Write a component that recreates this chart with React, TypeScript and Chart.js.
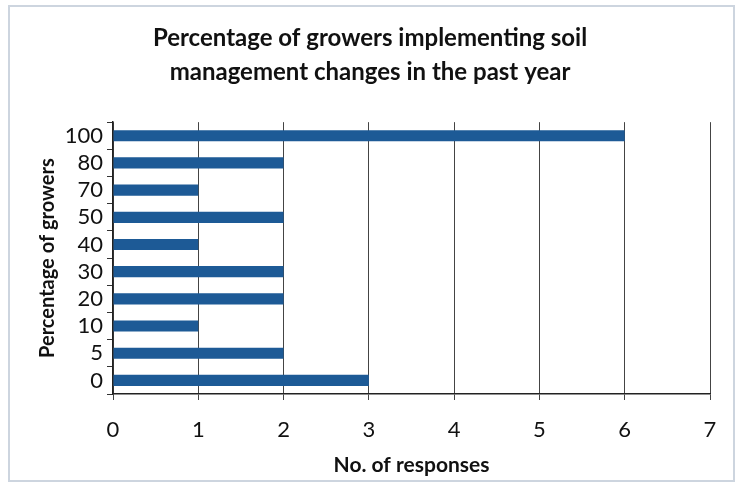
import React, { useEffect, useRef } from 'react';
import { Chart, registerables } from 'chart.js';

Chart.register(...registerables);

const titleLines = ['Percentage of growers implementing soil', 'management changes in the past year'];
const categories = ['100', '80', '70', '50', '40', '30', '20', '10', '5', '0'];
const responses = [6, 2, 1, 2, 1, 2, 2, 1, 2, 3];
const xMin = 0;
const xMax = 7;
const xStep = 1;
const yTitle = 'Percentage of growers';
const xTitle = 'No. of responses';

export default function App() {
  const ref = useRef<HTMLCanvasElement | null>(null);

  useEffect(() => {
    document.body.style.margin = '0';
    const canvas = ref.current;
    if (!canvas) return;
    Chart.defaults.font.family = "Lato, 'Open Sans', sans-serif";
    const chart = new Chart(canvas, {
      type: 'bar',
      data: {
        labels: categories,
        datasets: [
          {
            data: responses,
            backgroundColor: '#1d5a96',
            borderWidth: 0,
            barPercentage: 0.41,
            categoryPercentage: 1,
          },
        ],
      },
      options: {
        indexAxis: 'y',
        animation: false,
        responsive: false,
        maintainAspectRatio: false,
        layout: { padding: { left: 30, right: 31, top: 0, bottom: 0 } },
        plugins: {
          legend: { display: false },
          tooltip: { enabled: false },
          title: {
            display: true,
            text: titleLines,
            color: '#111',
            font: { size: 24, weight: 'bold', lineHeight: 1.42 },
            padding: { top: 21, bottom: 33 },
          },
        },
        scales: {
          y: {
            type: 'category',
            offset: true,
            grid: {
              offset: true,
              drawOnChartArea: false,
              drawTicks: true,
              tickLength: 6,
              color: '#333',
            },
            border: { display: true, color: '#222', width: 1.5 },
            ticks: { color: '#111', font: { size: 22 }, padding: 4, autoSkip: false },
            title: {
              display: true,
              text: yTitle,
              color: '#111',
              font: { size: 20, weight: 'bold', lineHeight: 1.2 },
              padding: { top: 6, bottom: 0 },
            },
            afterFit: (scale: any) => {
              scale.width = 83;
            },
          },
          x: {
            type: 'linear',
            min: xMin,
            max: xMax,
            ticks: { stepSize: xStep, color: '#111', font: { size: 22 }, padding: 17, autoSkip: false },
            grid: {
              color: '#444',
              lineWidth: 1,
              drawTicks: true,
              tickLength: 6,
            },
            border: { display: true, color: '#222', width: 1.5 },
            title: {
              display: true,
              text: xTitle,
              color: '#111',
              font: { size: 21, weight: 'bold', lineHeight: 1.2 },
              padding: { top: 0, bottom: 11 },
            },
            afterFit: (scale: any) => {
              scale.height = 95;
            },
          },
        },
      },
    });
    return () => chart.destroy();
  }, []);

  return (
    <div style={{ position: 'fixed', left: 0, top: 0, width: 741, height: 489, background: '#fff' }}>
      <div
        style={{
          position: 'absolute',
          left: 8,
          top: 5,
          width: 727,
          height: 477,
          border: '2px solid #cdd5df',
          boxSizing: 'border-box',
        }}
      />
      <canvas ref={ref} width={741} height={489} style={{ position: 'absolute', left: 0, top: 0 }} />
    </div>
  );
}
